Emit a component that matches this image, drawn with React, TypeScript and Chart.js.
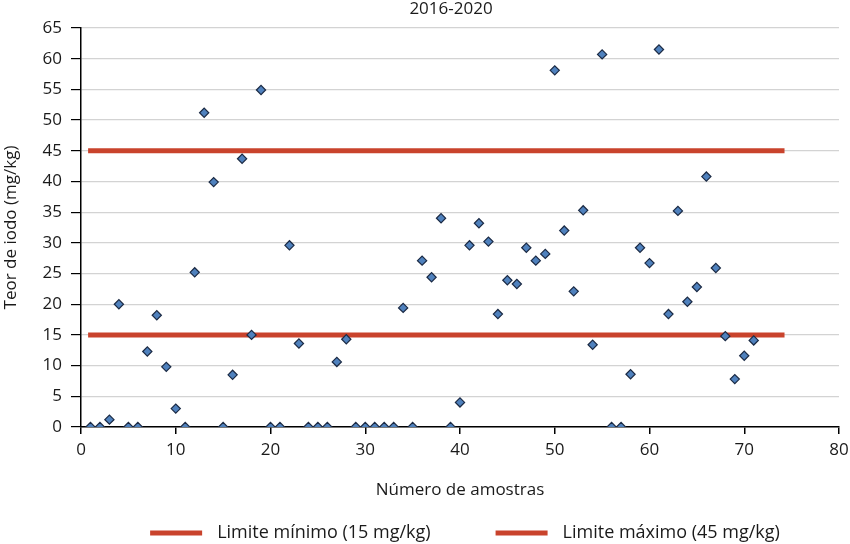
import { useEffect, useRef } from 'react';
import { Chart, registerables } from 'chart.js';

Chart.register(...registerables);

const TITLE = '2016-2020';
const X_TITLE = 'Número de amostras';
const Y_TITLE = 'Teor de iodo (mg/kg)';

const SAMPLE_NUMBERS = [
  1, 2, 3, 4, 5, 6, 7, 8, 9, 10, 11, 12, 13, 14, 15, 16, 17, 18, 19, 20,
  21, 22, 23, 24, 25, 26, 27, 28, 29, 30, 31, 32, 33, 34, 35, 36, 37, 38, 39, 40,
  41, 42, 43, 44, 45, 46, 47, 48, 49, 50, 51, 52, 53, 54, 55, 56, 57, 58, 59, 60,
  61, 62, 63, 64, 65, 66, 67, 68, 69, 70, 71,
];

const IODINE_VALUES = [
  0, 0, 1.2, 20.0, 0, 0, 12.3, 18.2, 9.8, 3.0,
  0, 25.2, 51.2, 39.9, 0, 8.5, 43.7, 15.0, 54.9, 0,
  0, 29.6, 13.6, 0, 0, 0, 10.6, 14.3, 0, 0,
  0, 0, 0, 19.4, 0, 27.1, 24.4, 34.0, 0, 4.0,
  29.6, 33.2, 30.2, 18.4, 23.9, 23.3, 29.2, 27.1, 28.2, 58.1,
  32.0, 22.1, 35.3, 13.4, 60.7, 0, 0, 8.6, 29.2, 26.7,
  61.5, 18.4, 35.2, 20.4, 22.8, 40.8, 25.9, 14.8, 7.8, 11.6,
  14.1,
];

const LIMIT_LINE_X = [0.75, 74.25];
const LIMIT_MIN_VALUES = [15, 15];
const LIMIT_MAX_VALUES = [45, 45];
const LIMIT_LABELS = ['Limite mínimo (15 mg/kg)', 'Limite máximo (45 mg/kg)'];

const X_MIN = 0;
const X_MAX = 80;
const X_STEP = 10;
const Y_MIN = 0;
const Y_MAX = 65;
const Y_STEP = 5;

const FONT = '"Open Sans", "Noto Sans", sans-serif';
const TEXT_COLOR = '#1a1a1a';
const RED = '#C9432C';

const titlePlugin = {
  id: 'topTitle',
  afterDraw(chart: any) {
    const { ctx, chartArea } = chart;
    ctx.save();
    ctx.font = `17px ${FONT}`;
    ctx.fillStyle = TEXT_COLOR;
    ctx.textAlign = 'center';
    ctx.textBaseline = 'middle';
    ctx.fillText(TITLE, (chartArea.left + chartArea.right) / 2 - 9, chartArea.top - 19);
    ctx.restore();
  },
};

const legendPlugin = {
  id: 'lineLegend',
  afterDraw(chart: any) {
    const { ctx, chartArea } = chart;
    const items = chart.data.datasets.filter((d: any) => d.inLegend);
    const lineW = 52;
    const gap = 15;
    const itemGap = 65;
    ctx.save();
    ctx.font = `18px ${FONT}`;
    const widths = items.map((d: any) => ctx.measureText(d.label).width);
    const total =
      widths.reduce((a: number, w: number) => a + w + lineW + gap, 0) + itemGap * (items.length - 1);
    let x = (chartArea.left + chartArea.right) / 2 + 5 - total / 2;
    const y = chart.height - 11;
    items.forEach((d: any, i: number) => {
      ctx.fillStyle = d.borderColor;
      ctx.fillRect(x, y - 2.5, lineW, 5);
      x += lineW + gap;
      ctx.fillStyle = TEXT_COLOR;
      ctx.textAlign = 'left';
      ctx.textBaseline = 'middle';
      ctx.fillText(d.label, x, y);
      x += widths[i] + itemGap;
    });
    ctx.restore();
  },
};

export default function App() {
  const canvasRef = useRef<HTMLCanvasElement | null>(null);

  useEffect(() => {
    const canvas = canvasRef.current;
    if (!canvas) return;

    const points = SAMPLE_NUMBERS.map((n, i) => ({ x: n, y: IODINE_VALUES[i] }));
    const minLine = LIMIT_LINE_X.map((x, i) => ({ x, y: LIMIT_MIN_VALUES[i] }));
    const maxLine = LIMIT_LINE_X.map((x, i) => ({ x, y: LIMIT_MAX_VALUES[i] }));

    const chart = new Chart(canvas, {
      type: 'scatter',
      data: {
        datasets: [
          {
            label: 'Amostras',
            data: points,
            pointStyle: 'rectRot',
            pointRadius: 4.6,
            pointBackgroundColor: '#4F81BD',
            pointBorderColor: '#1B2A44',
            pointBorderWidth: 1.2,
            showLine: false,
            order: 0,
          } as any,
          {
            label: LIMIT_LABELS[0],
            data: minLine,
            type: 'line',
            showLine: true,
            borderColor: RED,
            backgroundColor: RED,
            borderWidth: 5,
            borderCapStyle: 'butt',
            pointRadius: 0,
            fill: false,
            order: 1,
            inLegend: true,
          } as any,
          {
            label: LIMIT_LABELS[1],
            data: maxLine,
            type: 'line',
            showLine: true,
            borderColor: RED,
            backgroundColor: RED,
            borderWidth: 5,
            borderCapStyle: 'butt',
            pointRadius: 0,
            fill: false,
            order: 1,
            inLegend: true,
          } as any,
        ],
      },
      options: {
        animation: false,
        responsive: false,
        devicePixelRatio: 1,
        layout: { padding: { left: 0, right: 11, top: 28, bottom: 42 } },
        plugins: {
          legend: { display: false },
          title: { display: false },
          tooltip: { enabled: false },
        },
        scales: {
          x: {
            type: 'linear',
            min: X_MIN,
            max: X_MAX,
            ticks: {
              stepSize: X_STEP,
              color: TEXT_COLOR,
              font: { family: FONT, size: 17 },
              padding: 6,
              maxRotation: 0,
            },
            grid: {
              display: true,
              drawOnChartArea: false,
              drawTicks: true,
              tickLength: 7,
              tickColor: '#000',
              color: '#000',
              lineWidth: 1.5,
            },
            border: { display: true, color: '#000', width: 1.5 },
            title: {
              display: true,
              text: X_TITLE,
              color: TEXT_COLOR,
              font: { family: FONT, size: 17 },
              padding: { top: 0, bottom: 2 },
            },
            afterFit(scale: any) {
              scale.height = 75;
              scale.paddingLeft = 0;
              scale.paddingRight = 0;
            },
          },
          y: {
            type: 'linear',
            min: Y_MIN,
            max: Y_MAX,
            ticks: {
              stepSize: Y_STEP,
              color: TEXT_COLOR,
              font: { family: FONT, size: 17 },
              padding: 9,
            },
            grid: {
              display: true,
              color: '#D3D3D3',
              lineWidth: 1.2,
              tickLength: 10,
              tickColor: '#000',
            },
            border: { display: true, color: '#000', width: 1.5 },
            title: {
              display: true,
              text: Y_TITLE,
              color: TEXT_COLOR,
              font: { family: FONT, size: 17 },
              padding: { top: 1, bottom: 0 },
            },
            afterFit(scale: any) {
              scale.width = 81;
              scale.paddingTop = 0;
              scale.paddingBottom = 0;
            },
          },
        },
      },
      plugins: [titlePlugin, legendPlugin],
    });

    return () => chart.destroy();
  }, []);

  return (
    <div style={{ position: 'absolute', left: 0, top: 0, width: 850, height: 544, background: '#fff' }}>
      <canvas ref={canvasRef} width={850} height={544} style={{ display: 'block' }} />
    </div>
  );
}
